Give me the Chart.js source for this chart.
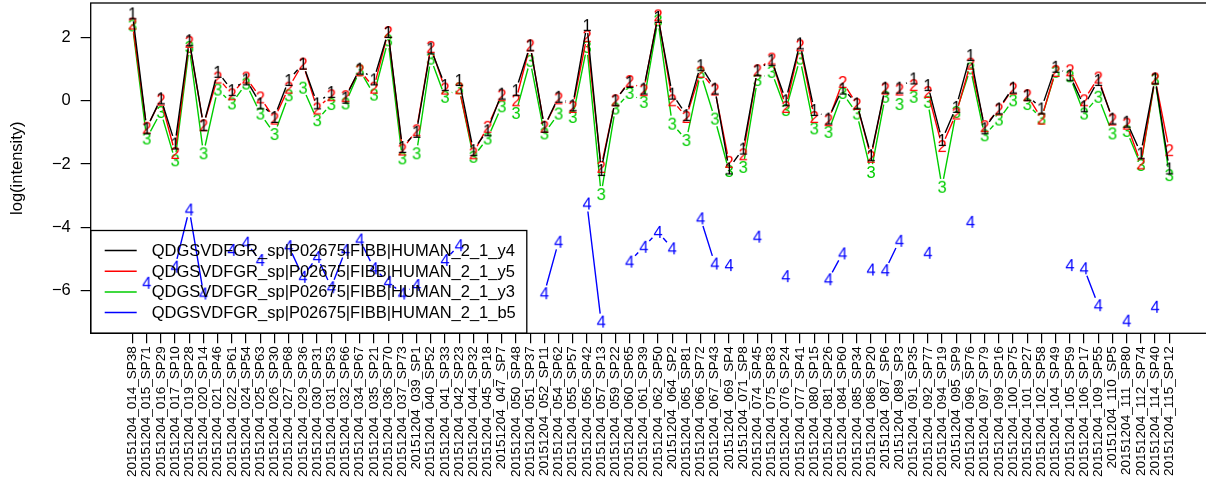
<!DOCTYPE html>
<html>
<head>
<meta charset="utf-8">
<script src="https://cdn.jsdelivr.net/npm/chart.js@4.4.0/dist/chart.umd.min.js"></script>
<style>
html, body { margin: 0; padding: 0; background: #fff; overflow: hidden; }
#wrap { width: 1206px; height: 486px; overflow: hidden; }
</style>
</head>
<body>
<div id="wrap"><canvas id="grafica" width="1211" height="486"></canvas></div>
<script>
// muestras (eje x)
const muestras = [
    '014_SP38', '015_SP71', '016_SP29', '017_SP10', '019_SP28', '020_SP14', '021_SP46', '022_SP61',
    '024_SP54', '025_SP63', '026_SP30', '027_SP68', '029_SP36', '030_SP31', '031_SP53', '032_SP66',
    '034_SP67', '035_SP21', '036_SP70', '037_SP73', '039_SP1', '040_SP52', '041_SP33', '042_SP23',
    '044_SP32', '045_SP18', '047_SP7', '050_SP48', '051_SP37', '052_SP11', '054_SP62', '055_SP57',
    '056_SP42', '057_SP13', '059_SP22', '060_SP65', '061_SP39', '062_SP50', '064_SP2', '065_SP81',
    '066_SP72', '067_SP43', '069_SP4', '071_SP8', '074_SP45', '075_SP83', '076_SP24', '077_SP41',
    '080_SP15', '081_SP26', '084_SP60', '085_SP34', '086_SP20', '087_SP6', '089_SP3', '091_SP35',
    '092_SP77', '094_SP19', '095_SP9', '096_SP76', '097_SP79', '099_SP16', '100_SP75', '101_SP27',
    '102_SP58', '104_SP49', '105_SP59', '106_SP17', '109_SP55', '110_SP5', '111_SP80', '112_SP74',
    '114_SP40', '115_SP12'
].map(m => '20151204_' + m);

const serieY4 = [
    2.77, -0.87, 0.08, -1.35, 1.92, -0.77, 0.92, 0.34, 0.68, -0.08,
    -0.51, 0.66, 1.18, -0.08, 0.28, 0.10, 1.02, 0.68, 2.18, -1.46,
    -0.98, 1.66, 0.50, 0.66, -1.56, -0.93, 0.23, 0.34, 1.76, -0.82,
    0.13, -0.14, 2.40, -2.19, 0.02, 0.60, 0.39, 2.66, 0.23, -0.45,
    1.13, 0.39, -2.14, -1.51, 0.97, 1.29, 0.02, 1.82, -0.29, -0.56,
    0.39, -0.08, -1.72, 0.42, 0.42, 0.71, 0.50, -1.24, -0.19, 1.45,
    -0.87, -0.24, 0.42, 0.18, -0.24, 1.08, 0.81, -0.17, 0.66, -0.56,
    -0.66, -1.66, 0.71, -2.14
];
const serieY5 = [
    2.45, -0.85, 0.04, -1.65, 1.87, -0.77, 0.74, 0.21, 0.74, 0.11,
    -0.56, 0.42, 1.18, -0.24, 0.18, 0.15, 0.97, 0.42, 2.18, -1.54,
    -0.93, 1.71, 0.39, 0.40, -1.66, -0.82, 0.18, 0.02, 1.76, -0.82,
    0.08, -0.19, 2.05, -2.09, 0.02, 0.63, 0.34, 2.71, 0.02, -0.51,
    0.92, 0.36, -1.93, -1.69, 0.97, 1.34, -0.19, 1.76, -0.51, -0.61,
    0.60, -0.10, -1.77, 0.39, 0.36, 0.50, 0.28, -1.43, -0.40, 1.18,
    -0.80, -0.27, 0.39, 0.18, -0.56, 0.95, 0.97, 0.02, 0.74, -0.59,
    -0.72, -1.98, 0.71, -1.56
];
const serieY3 = [
    2.39, -1.19, -0.35, -1.88, 1.71, -1.66, 0.36, -0.08, 0.55, -0.40,
    -1.05, 0.18, 0.42, -0.61, -0.10, -0.08, 0.97, 0.20, 1.92, -1.82,
    -1.66, 1.34, 0.13, 0.40, -1.77, -1.19, -0.17, -0.38, 1.27, -1.03,
    -0.40, -0.51, 1.71, -2.95, -0.24, 0.25, -0.03, 2.55, -0.72, -1.24,
    0.89, -0.56, -2.22, -2.09, 0.66, 0.92, -0.29, 1.34, -0.87, -0.98,
    0.25, -0.40, -2.25, 0.13, -0.10, 0.13, -0.03, -2.72, -0.35, 1.03,
    -1.09, -0.59, 0.02, -0.10, -0.56, 0.92, 0.78, -0.40, 0.13, -1.03,
    -0.95, -2.03, 0.68, -2.35
];
const serieB5 = [
    null, -5.76, null, -5.25, -3.44, -6.10, null, -4.72, -4.49, -5.04,
    null, -4.60, -5.57, -4.94, -5.90, -4.72, -4.39, -5.30, -5.73, -6.10,
    -5.83, null, -5.04, -4.57, null, null, null, null, null, -6.09,
    -4.46, null, -3.25, -6.99, null, -5.09, -4.62, -4.15, -4.67, null,
    -3.72, -5.15, -5.20, null, -4.30, null, -5.55, null, null, -5.65,
    -4.83, null, -5.34, -5.36, -4.43, null, -4.81, null, null, -3.83,
    null, null, null, null, null, null, -5.20, -5.30, -6.47, null,
    -6.96, null, -6.52, null
];

const nombres = [
    'QDGSVDFGR_sp|P02675|FIBB|HUMAN_2_1_y4',
    'QDGSVDFGR_sp|P02675|FIBB|HUMAN_2_1_y5',
    'QDGSVDFGR_sp|P02675|FIBB|HUMAN_2_1_y3',
    'QDGSVDFGR_sp|P02675|FIBB|HUMAN_2_1_b5'
];
const colores = ['#000000', '#FF0000', '#00CD00', '#0000FF'];
const simbolos = ['1', '2', '3', '4'];
const yTicks = [-6, -4, -2, 0, 2];

const FUENTE = '"Liberation Sans", Arial, sans-serif';
const TAM = 16.5;

// el numero de la serie como marca del punto
const marca = (txt, color) => {
    const c = document.createElement('canvas');
    c.width = 20;
    c.height = 22;
    const ctx = c.getContext('2d');
    ctx.font = `${TAM}px ${FUENTE}`;
    ctx.fillStyle = color;
    ctx.textAlign = 'center';
    ctx.textBaseline = 'alphabetic';
    ctx.fillText(txt, 10, 11 + 0.716 * TAM / 2);
    return c;
};

// lineas tipo "b" de R: cortadas alrededor de cada punto
const lineasConHueco = {
    id: 'lineasConHueco',
    beforeDatasetDraw(chart, args) {
        const ds = chart.data.datasets[args.index];
        const pts = args.meta.data;
        const a = chart.chartArea;
        const ctx = chart.ctx;
        const g = 8;
        ctx.save();
        ctx.beginPath();
        ctx.rect(a.left, a.top, a.right - a.left, a.bottom - a.top);
        ctx.clip();
        ctx.beginPath();
        ctx.strokeStyle = ds.borderColor;
        ctx.lineWidth = 1.4;
        for (let k = 1; k < pts.length; k++) {
            if (ds.data[k - 1].y === null || ds.data[k].y === null) continue;
            const p0 = pts[k - 1], p1 = pts[k];
            const dx = p1.x - p0.x, dy = p1.y - p0.y;
            const d = Math.hypot(dx, dy);
            if (d <= 2 * g) continue;
            const ux = dx / d, uy = dy / d;
            ctx.moveTo(p0.x + ux * g, p0.y + uy * g);
            ctx.lineTo(p1.x - ux * g, p1.y - uy * g);
        }
        ctx.stroke();
        ctx.restore();
    }
};

// caja del grafico y leyenda abajo a la izquierda
const marcoYLeyenda = {
    id: 'marcoYLeyenda',
    afterDatasetsDraw(chart) {
        const { ctx, chartArea: a } = chart;
        ctx.save();
        ctx.strokeStyle = '#000';
        ctx.lineWidth = 1.3;
        ctx.strokeRect(a.left, a.top, a.right - a.left, a.bottom - a.top);

        ctx.font = `${TAM}px ${FUENTE}`;
        const anchoTexto = Math.max(...nombres.map(n => ctx.measureText(n).width));
        const paso = 20.7;
        const alto = paso * nombres.length + 20;
        const x0 = a.left, y0 = a.bottom - alto;
        const xTexto = x0 + 61;
        ctx.strokeRect(x0, y0, xTexto + anchoTexto + 11 - x0, alto);
        ctx.textBaseline = 'middle';
        ctx.textAlign = 'left';
        nombres.forEach((n, i) => {
            const yy = y0 + 20 + i * paso;
            ctx.strokeStyle = colores[i];
            ctx.lineWidth = 1.5;
            ctx.beginPath();
            ctx.moveTo(x0 + 14, yy);
            ctx.lineTo(x0 + 46, yy);
            ctx.stroke();
            ctx.fillStyle = '#000';
            ctx.fillText(n, xTexto, yy + 1);
        });
        ctx.restore();
    }
};

const sinRelleno = s => {
    s.paddingTop = 0;
    s.paddingBottom = 0;
    s.paddingLeft = 0;
    s.paddingRight = 0;
};

const series = [serieY4, serieY5, serieY3, serieB5];

new Chart(document.getElementById('grafica'), {
    type: 'line',
    data: {
        datasets: series.map((s, i) => ({
            label: nombres[i],
            data: s.map((v, k) => ({ x: k, y: v })),
            borderColor: colores[i],
            showLine: false,
            pointStyle: marca(simbolos[i], colores[i]),
            pointRadius: 8,
            pointHoverRadius: 8
        }))
    },
    options: {
        responsive: false,
        animation: false,
        events: [],
        layout: { autoPadding: false, padding: { top: 3, left: 0, right: 0, bottom: 0 } },
        plugins: { legend: { display: false }, tooltip: { enabled: false } },
        scales: {
            x: {
                type: 'linear',
                min: -2.94,
                max: 75.94,
                afterBuildTicks: s => { s.ticks = muestras.map((_, i) => ({ value: i })); },
                afterFit: s => { s.height = 152.7; sinRelleno(s); },
                border: { display: false },
                grid: { drawOnChartArea: false, drawTicks: true, tickLength: 10, color: '#000', lineWidth: 1.2 },
                ticks: {
                    autoSkip: false,
                    minRotation: 90,
                    maxRotation: 90,
                    padding: 3,
                    color: '#000',
                    font: { family: FUENTE, size: 13.5 },
                    callback: v => muestras[v]
                }
            },
            y: {
                min: -7.36,
                max: 3.10,
                afterBuildTicks: s => { s.ticks = yTicks.map(v => ({ value: v })); },
                afterFit: s => { s.width = 90.7; sinRelleno(s); },
                border: { display: false },
                grid: { drawOnChartArea: false, drawTicks: true, tickLength: 10, color: '#000', lineWidth: 1.2 },
                ticks: {
                    padding: 10,
                    color: '#000',
                    font: { family: FUENTE, size: TAM },
                    callback: v => (v < 0 ? '\u2212' + Math.abs(v) : String(v))
                },
                title: {
                    display: true,
                    text: 'log(intensity)',
                    color: '#000',
                    font: { family: FUENTE, size: TAM },
                    padding: { top: 8, bottom: 0 }
                }
            }
        }
    },
    plugins: [lineasConHueco, marcoYLeyenda]
});
</script>
</body>
</html>
